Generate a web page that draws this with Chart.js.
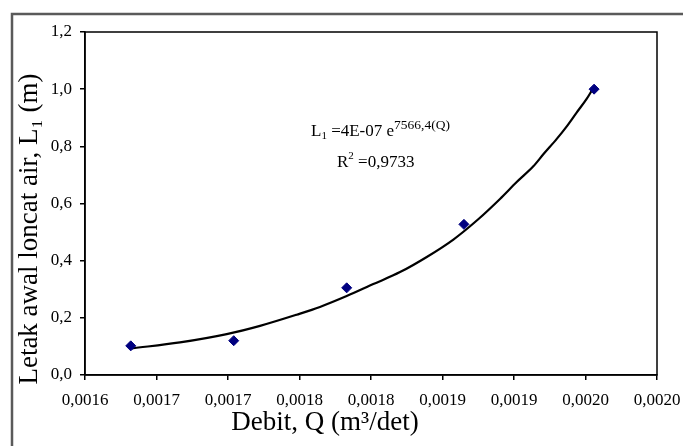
<!DOCTYPE html>
<html>
<head>
<meta charset="utf-8">
<script src="https://cdn.jsdelivr.net/npm/chart.js@4.4.1/dist/chart.umd.min.js"></script>
<style>
    body { margin: 0; background: #fff; }
    #wrap { width: 683px; height: 446px; position: relative; }
</style>
</head>
<body>
<div id="wrap"><canvas id="chart"></canvas></div>
<script>
// measured data points (Debit Q vs Letak awal loncat air L1)
const debitQ = [0.001632, 0.001704, 0.001783, 0.001865, 0.001956];
const letakL = [0.102, 0.120, 0.305, 0.527, 1.000];

// trendline
const trendQ = [0.0016327, 0.0016664, 0.0016991, 0.0017224, 0.0017480, 0.0017643, 0.0017830,
    0.0018016, 0.0018203, 0.0018390, 0.0018576, 0.0018750, 0.0018902, 0.0019019,
    0.0019135, 0.0019205, 0.0019299, 0.0019369, 0.0019438, 0.0019508, 0.0019550];
const trendL = [0.093, 0.114, 0.143, 0.172, 0.211, 0.238, 0.276,
    0.318, 0.360, 0.413, 0.474, 0.545, 0.616, 0.675,
    0.730, 0.772, 0.826, 0.870, 0.918, 0.966, 1.000];

const xTickLabels = ['0,0016', '0,0017', '0,0017', '0,0018', '0,0018', '0,0019', '0,0019', '0,0020', '0,0020'];
const yTickLabels = ['0,0', '0,2', '0,4', '0,6', '0,8', '1,0', '1,2'];

const serif = "'Liberation Serif', 'Times New Roman', serif";

// frame, plot border, titles and equation
const decor = {
    id: 'decor',
    beforeDraw(chart) {
        const ctx = chart.ctx;
        ctx.save();
        ctx.fillStyle = '#fff';
        ctx.fillRect(0, 0, chart.width, chart.height);
        ctx.strokeStyle = '#5a5a5a';
        ctx.lineWidth = 2.5;
        ctx.beginPath();
        ctx.moveTo(12, chart.height + 5);
        ctx.lineTo(12, 14);
        ctx.lineTo(chart.width + 5, 14);
        ctx.stroke();
        ctx.restore();
    },
    afterDraw(chart) {
        const ctx = chart.ctx;
        const a = chart.chartArea;
        ctx.save();
        ctx.strokeStyle = '#000';
        ctx.lineWidth = 1.5;
        ctx.strokeRect(a.left, a.top, a.right - a.left, a.bottom - a.top);

        ctx.fillStyle = '#000';
        ctx.textBaseline = 'alphabetic';

        // x title
        ctx.font = '27px ' + serif;
        ctx.textAlign = 'center';
        ctx.fillText('Debit, Q (m\u00b3/det)', 325, 430);

        // y title
        ctx.save();
        ctx.translate(37, 229);
        ctx.rotate(-Math.PI / 2);
        ctx.fillText('Letak awal loncat air, L\u2081 (m)', 0, 0);
        ctx.restore();

        // equation
        ctx.textAlign = 'left';
        let x = 311;
        const put = (t, size, y) => {
            ctx.font = size + 'px ' + serif;
            ctx.fillText(t, x, y);
            x += ctx.measureText(t).width;
        };
        put('L', 17, 136);
        put('1', 11, 139);
        put(' =4E-07 e', 17, 136);
        put('7566,4(Q)', 13.5, 129);

        x = 337;
        put('R', 17, 167);
        put('2', 11, 159);
        put(' =0,9733', 17, 167);
        ctx.restore();
    }
};

new Chart(document.getElementById('chart'), {
    type: 'scatter',
    data: {
        datasets: [
            {
                label: 'Data',
                data: debitQ.map((q, i) => ({ x: q, y: letakL[i] })),
                pointStyle: 'rectRot',
                pointRadius: 5,
                pointBackgroundColor: '#000080',
                pointBorderColor: '#000080',
                pointBorderWidth: 1
            },
            {
                label: 'Trend',
                data: trendQ.map((q, i) => ({ x: q, y: trendL[i] })),
                showLine: true,
                borderColor: '#000',
                borderWidth: 2.2,
                pointRadius: 0,
                cubicInterpolationMode: 'monotone'
            }
        ]
    },
    options: {
        responsive: true,
        maintainAspectRatio: false,
        animation: false,
        layout: { padding: { left: 45, top: 32, right: 26, bottom: 31 } },
        plugins: {
            legend: { display: false },
            tooltip: { enabled: false }
        },
        scales: {
            x: {
                type: 'linear',
                min: 0.0016,
                max: 0.0020,
                afterFit: s => { s.height = 40; s.paddingLeft = 0; s.paddingRight = 0; },
                ticks: {
                    stepSize: 0.00005,
                    color: '#000',
                    padding: 10,
                    maxRotation: 0,
                    autoSkip: false,
                    font: { family: serif, size: 17 },
                    callback: (v, i) => xTickLabels[i]
                },
                grid: { drawOnChartArea: false, tickLength: 5, color: '#000', lineWidth: 1.5 },
                border: { color: '#000', width: 1.5 }
            },
            y: {
                min: 0,
                max: 1.2,
                afterFit: s => { s.width = 40; s.paddingTop = 0; s.paddingBottom = 0; },
                ticks: {
                    stepSize: 0.2,
                    color: '#000',
                    padding: 8,
                    font: { family: serif, size: 17 },
                    callback: (v, i) => yTickLabels[i]
                },
                grid: { drawOnChartArea: false, tickLength: 5, color: '#000', lineWidth: 1.5 },
                border: { color: '#000', width: 1.5 }
            }
        }
    },
    plugins: [decor]
});
</script>
</body>
</html>
